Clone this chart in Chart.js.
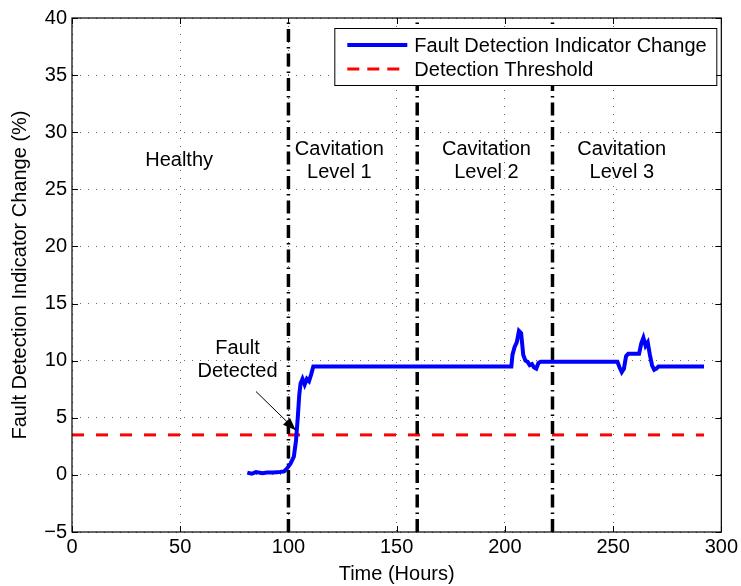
<!DOCTYPE html>
<html><head><meta charset="utf-8">
<script src="https://cdn.jsdelivr.net/npm/chart.js@4"></script>
<style>html,body{margin:0;padding:0;background:#fff}#wrap{width:741px;height:586px}</style>
</head><body><div id="wrap"><canvas id="c" width="741" height="586"></canvas></div>
<script>
// ---- data ----
const hours = [81,83,85,88,90,93,96,98,99.5,101,102.5,103.5,104.3,105,105.6,106.5,107.5,108.5,109.5,110.5,111.5,
  203,203.5,204.5,205.5,206.5,207.5,208.5,209.5,210.5,211.5,212.5,213.5,214.5,215.5,216.5,
  252,253,254,255,256,257,262,263,264,265,266,267,268,269,270,271,292];
const indicatorChange = [0.2,0.1,0.25,0.15,0.2,0.2,0.25,0.3,0.6,1.0,1.6,3.0,5.0,7.0,8.0,8.4,7.9,8.4,8.2,8.8,9.5,
  9.5,10.5,11.2,11.6,12.6,12.4,10.5,10.0,9.9,9.6,9.7,9.4,9.3,9.8,9.9,
  9.9,9.4,9.0,9.3,10.4,10.6,10.6,11.5,12.0,11.3,11.6,10.5,9.6,9.2,9.3,9.5,9.5];
const thresholdHours = [0, 292];
const thresholdValues = [3.5, 3.5];
const levelChangeHours = [100, 159.5, 222];
const stageLabels = [["Healthy"],["Cavitation","Level 1"],["Cavitation","Level 2"],["Cavitation","Level 3"]];
const stageLabelHours = [49.5, 123.5, 191.5, 254];
const stageLabelValue = 27.5;
const faultLabel = ["Fault","Detected"];
const faultLabelAt = [76.5, 10.1];
const arrowTail = [85, 7.3];
const arrowHead = [103.4, 3.9];
const xTicks = [0,50,100,150,200,250,300];
const yTicks = [-5,0,5,10,15,20,25,30,35,40];
const seriesNames = ["Fault Detection Indicator Change","Detection Threshold"];

const FONT = "'Liberation Sans', Arial, sans-serif";
const FS = 20;

const datasets = [
  {label: seriesNames[0], data: hours.map((h,i)=>({x:h,y:indicatorChange[i]})),
   borderColor:'#0000ff', borderWidth:4, pointRadius:0, tension:0, fill:false, order:1},
  {label: seriesNames[1], data: thresholdHours.map((h,i)=>({x:h,y:thresholdValues[i]})),
   borderColor:'#ff0000', borderWidth:3, borderDash:[12,12], pointRadius:0, fill:false, order:3}
];
levelChangeHours.forEach(h=>{
  datasets.push({label:'_v', data:[{x:h,y:-5},{x:h,y:40}], borderColor:'#000', borderWidth:3.5,
    borderDash:[13,5,1.5,5], pointRadius:0, fill:false, order:2});
});

const overlay = {
  id:'overlay',
  afterDatasetsDraw(chart){
    const {ctx, chartArea:a, scales:{x,y}} = chart;
    ctx.save();
    ctx.strokeStyle='#000'; ctx.lineWidth=1.2; ctx.setLineDash([]);
    ctx.strokeRect(a.left, a.top, a.right-a.left, a.bottom-a.top);
    ctx.lineWidth=1;
    xTicks.forEach(t=>{const px=Math.round(x.getPixelForValue(t))+0.5;
      ctx.beginPath();ctx.moveTo(px,a.bottom);ctx.lineTo(px,a.bottom-6);ctx.moveTo(px,a.top);ctx.lineTo(px,a.top+6);ctx.stroke();});
    yTicks.forEach(t=>{const py=Math.round(y.getPixelForValue(t))+0.5;
      ctx.beginPath();ctx.moveTo(a.left,py);ctx.lineTo(a.left+6,py);ctx.moveTo(a.right,py);ctx.lineTo(a.right-6,py);ctx.stroke();});
    ctx.fillStyle='#000'; ctx.font=FS+'px '+FONT; ctx.textAlign='center'; ctx.textBaseline='middle';
    stageLabels.forEach((lines,i)=>{
      const px=x.getPixelForValue(stageLabelHours[i]);
      const py=y.getPixelForValue(stageLabelValue);
      const n=lines.length;
      lines.forEach((ln,j)=>ctx.fillText(ln, px, py + (j-(n-1)/2)*23));
    });
    const fx=x.getPixelForValue(faultLabelAt[0]), fy=y.getPixelForValue(faultLabelAt[1]);
    faultLabel.forEach((ln,j)=>ctx.fillText(ln, fx, fy+(j-0.5)*23));
    const tx=x.getPixelForValue(arrowTail[0]), ty=y.getPixelForValue(arrowTail[1]);
    const hx=x.getPixelForValue(arrowHead[0]), hy=y.getPixelForValue(arrowHead[1]);
    ctx.strokeStyle='#000'; ctx.lineWidth=1;
    ctx.beginPath(); ctx.moveTo(tx,ty); ctx.lineTo(hx,hy); ctx.stroke();
    const ang=Math.atan2(hy-ty,hx-tx), L=13, W=5;
    ctx.beginPath(); ctx.moveTo(hx,hy);
    ctx.lineTo(hx-L*Math.cos(ang)+W*Math.sin(ang), hy-L*Math.sin(ang)-W*Math.cos(ang));
    ctx.lineTo(hx-L*Math.cos(ang)-W*Math.sin(ang), hy-L*Math.sin(ang)+W*Math.cos(ang));
    ctx.closePath(); ctx.fillStyle='#000'; ctx.fill();
    const lx=a.right-387, ly=a.top+10, lw=382, lh=57;
    ctx.fillStyle='#fff'; ctx.fillRect(lx,ly,lw,lh);
    ctx.strokeStyle='#000'; ctx.lineWidth=1; ctx.strokeRect(lx+0.5,ly+0.5,lw,lh);
    ctx.textAlign='left'; ctx.font=FS+'px '+FONT; ctx.fillStyle='#000';
    [0,1].forEach(i=>{
      const ds=chart.data.datasets[i];
      const yy=ly+17+i*24;
      ctx.strokeStyle=ds.borderColor; ctx.lineWidth=ds.borderWidth;
      ctx.setLineDash(i===1?[12,8]:[]);
      ctx.beginPath(); ctx.moveTo(lx+13,yy); ctx.lineTo(lx+73,yy); ctx.stroke();
      ctx.setLineDash([]);
      ctx.fillText(ds.label, lx+80, yy+1);
    });
    ctx.restore();
  }
};

new Chart(document.getElementById('c'), {
  type:'line',
  data:{datasets},
  options:{
    responsive:false, animation:false, devicePixelRatio:1,
    layout:{padding:{top:18,right:18,left:0,bottom:0}},
    plugins:{legend:{display:false}, tooltip:{enabled:false}},
    scales:{
      x:{type:'linear', min:0, max:300,
        afterBuildTicks(s){s.ticks=xTicks.map(v=>({value:v}));},
        afterFit(s){s.height=54;},
        ticks:{color:'#000', font:{family:FONT,size:FS}, padding:3, maxRotation:0},
        grid:{color:'#666', lineWidth:1, drawTicks:false},
        border:{display:false, dash:[1,7]},
        title:{display:true,text:'Time (Hours)',color:'#000',font:{family:FONT,size:FS},padding:{top:0,bottom:0}}
      },
      y:{type:'linear', min:-5, max:40,
        afterBuildTicks(s){s.ticks=yTicks.map(v=>({value:v}));},
        afterFit(s){s.width=72;},
        ticks:{color:'#000', font:{family:FONT,size:FS}, padding:5, callback:v=>v<0?'\u2212'+Math.abs(v):String(v)},
        grid:{color:'#666', lineWidth:1, drawTicks:false},
        border:{display:false, dash:[1,7]},
        title:{display:true,text:'Fault Detection Indicator Change (%)',color:'#000',font:{family:FONT,size:FS},padding:{top:8,bottom:0}}
      }
    }
  },
  plugins:[overlay]
});
</script></body></html>
